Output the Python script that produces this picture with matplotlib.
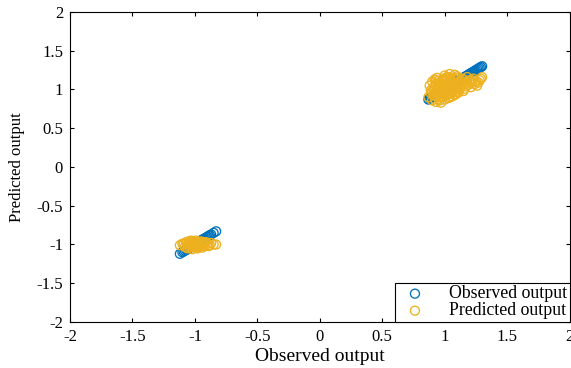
import matplotlib
matplotlib.use("Agg")
from matplotlib import pyplot as plt

# Observed / predicted values, cluster around +1
obs_hi = [0.87, 0.88, 0.89, 0.90, 0.90, 0.91, 0.92, 0.92, 0.93, 0.93,
          0.94, 0.94, 0.95, 0.95, 0.96, 0.96, 0.97, 0.97, 0.98, 0.98,
          0.99, 0.99, 1.00, 1.00, 1.01, 1.01, 1.02, 1.02, 1.03, 1.03,
          1.04, 1.04, 1.05, 1.05, 1.06, 1.06, 1.07, 1.07, 1.08, 1.08,
          1.09, 1.10, 1.10, 1.11, 1.12, 1.13, 1.14, 1.15, 1.16, 1.17,
          1.18, 1.19, 1.20, 1.21, 1.22, 1.23, 1.24, 1.25, 1.26, 1.27,
          1.28, 1.29, 1.30,
          0.90, 0.91, 0.92, 0.93, 0.94, 0.95, 0.96, 0.97, 0.98, 0.99,
          1.00, 1.01, 1.02, 1.03, 1.04, 1.05, 1.06, 1.07, 1.08, 1.09,
          1.10, 1.11, 1.12, 1.13, 1.14, 1.15, 1.16, 1.18, 1.20, 1.22,
          0.89, 0.91, 0.93, 0.95, 0.96, 0.97, 0.98, 0.99, 1.00, 1.01,
          1.02, 1.03, 1.04, 1.05, 1.06, 1.07, 1.08, 1.09, 1.11, 1.13]
pred_hi = [0.90, 1.05, 0.95, 1.10, 0.86, 1.00, 1.13, 0.92, 0.84, 1.06,
           0.98, 1.15, 0.88, 1.02, 0.94, 1.09, 0.83, 1.00, 1.12, 0.90,
           1.04, 0.96, 1.18, 0.87, 1.01, 1.08, 0.93, 1.14, 0.98, 0.89,
           1.06, 1.20, 0.95, 1.10, 1.02, 0.91, 1.15, 0.99, 1.05, 0.93,
           1.12, 1.00, 1.17, 0.96, 1.08, 1.03, 1.14, 0.98, 1.10, 1.04,
           1.16, 1.06, 1.12, 1.03, 1.09, 1.14, 1.07, 1.11, 1.05, 1.09,
           1.12, 1.14, 1.16,
           0.97, 1.03, 0.88, 1.07, 0.95, 1.11, 0.86, 1.04, 0.99, 1.14,
           0.92, 1.06, 1.16, 1.01, 0.90, 1.13, 0.97, 1.08, 1.19, 0.94,
           1.05, 1.15, 1.00, 1.11, 1.06, 1.13, 1.01, 1.08, 1.10, 1.12,
           0.99, 0.93, 1.12, 0.97, 1.07, 0.91, 1.03, 1.10, 0.96, 1.12,
           1.05, 0.95, 1.16, 1.00, 1.09, 1.04, 1.13, 0.97, 1.10, 1.07]

# Observed / predicted values, cluster around -1
obs_lo = [-1.12, -1.10, -1.08, -1.07, -1.06, -1.05, -1.04, -1.04, -1.03,
          -1.03, -1.02, -1.02, -1.01, -1.01, -1.00, -1.00, -0.99, -0.99,
          -0.98, -0.98, -0.97, -0.97, -0.96, -0.95, -0.94, -0.93, -0.92,
          -0.90, -0.88, -0.85, -0.83,
          -1.09, -1.06, -1.05, -1.03, -1.02, -1.01, -1.00, -0.99, -0.98,
          -0.97, -0.96, -0.95, -0.94, -0.93, -0.91, -0.89, -0.87]
pred_lo = [-1.01, -0.99, -1.03, -0.97, -1.05, -1.00, -0.96, -1.04, -1.01,
           -0.95, -1.06, -0.99, -1.02, -0.96, -1.04, -0.98, -1.01, -0.95,
           -1.05, -0.99, -1.02, -0.97, -1.03, -0.98, -1.01, -0.97, -1.02,
           -0.99, -1.01, -1.00, -1.00,
           -1.00, -1.02, -0.96, -0.98, -1.03, -1.00, -0.96, -1.03, -0.97,
           -1.04, -1.00, -0.96, -1.04, -1.00, -0.97, -1.02, -0.98]

ticks = [-2, -1.5, -1, -0.5, 0, 0.5, 1, 1.5, 2]
tick_labels = ["-2", "-1.5", "-1", "-0.5", "0", "0.5", "1", "1.5", "2"]

BLUE = "#0072BD"
YELLOW = "#EDB120"

plt.rcParams.update({
    "font.family": ["Liberation Serif", "DejaVu Serif"],
    "axes.unicode_minus": False,
})

fig = plt.figure(figsize=(5.71, 3.68), dpi=100)
ax = fig.add_axes([0.1226, 0.125, 0.8748, 0.8424])

obs = obs_lo + obs_hi
pred = pred_lo + pred_hi
ax.scatter(obs, obs, s=42, facecolors="none", edgecolors=BLUE,
           linewidths=0.95, label="Observed output")
ax.scatter(obs, pred, s=42, facecolors="none", edgecolors=YELLOW,
           linewidths=0.95, label="Predicted output")

ax.set_xlim(-2, 2)
ax.set_ylim(-2, 2)
ax.set_xticks(ticks)
ax.set_xticklabels(tick_labels)
ax.set_yticks(ticks)
ax.set_yticklabels(tick_labels)
ax.tick_params(direction="in", length=3, width=0.8, top=True, right=True,
               labelsize=12, pad=5)
for sp in ax.spines.values():
    sp.set_linewidth(0.8)

ax.set_xlabel("Observed output", fontsize=14, labelpad=2)
ax.set_ylabel("Predicted output", fontsize=12, labelpad=8)

leg = ax.legend(loc="lower right", borderaxespad=0, fancybox=False,
                edgecolor="black", framealpha=1, fontsize=12.8,
                handletextpad=0.9, borderpad=0.15, labelspacing=0.0,
                handlelength=2.0)
leg.get_frame().set_linewidth(0.8)

fig.savefig("out.png", dpi=100)
